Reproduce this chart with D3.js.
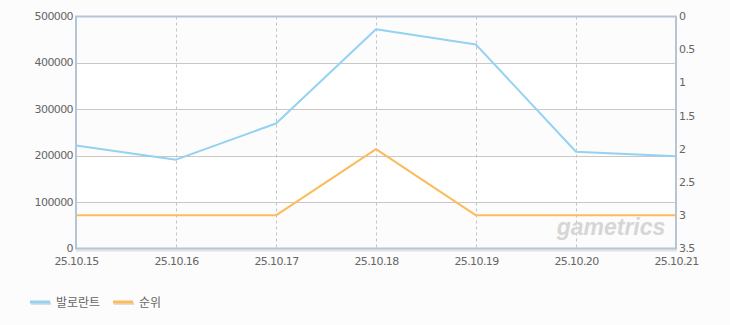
<!DOCTYPE html>
<html><head><meta charset="utf-8">
<script src="https://cdn.jsdelivr.net/npm/d3@7"></script>
<style>
html,body{margin:0;padding:0;background:#fcfcfc;}
svg{display:block;}
text{font-family:"DejaVu Sans","Noto Sans CJK KR",sans-serif;}
</style></head>
<body>
<script>
const dates = ["25.10.15","25.10.16","25.10.17","25.10.18","25.10.19","25.10.20","25.10.21"];
const players = [222000, 191500, 269500, 472500, 439500, 208500, 199000];
const ranks = [3, 3, 3, 2, 3, 3, 3];
const leftTicks = [0, 100000, 200000, 300000, 400000, 500000];
const rightTicks = [0, 0.5, 1, 1.5, 2, 2.5, 3, 3.5];
const seriesNames = ["발로란트", "순위"];
const seriesColors = ["#93d2f2", "#fcbb5c"];

const W = 730, H = 325;
const L = 76, R = 676, T = 16.5, B = 248.5;
const svg = d3.select("body").append("svg").attr("width", W).attr("height", H);

const x = d3.scalePoint().domain(dates).range([L, R]);
const yL = d3.scaleLinear().domain([0, 500000]).range([B, T]);
const yR = d3.scaleLinear().domain([0, 3.5]).range([T, B]);

// plot background bands
svg.append("rect").attr("x", L).attr("y", T).attr("width", R - L).attr("height", B - T).attr("fill", "#ffffff");
for (let i = 0; i < leftTicks.length - 1; i += 2) {
  svg.append("rect").attr("x", L).attr("width", R - L)
    .attr("y", yL(leftTicks[i + 1])).attr("height", yL(leftTicks[i]) - yL(leftTicks[i + 1]))
    .attr("fill", "#fcfcfc");
}

// horizontal grid
svg.append("g").selectAll("line").data(leftTicks.slice(1, -1)).join("line")
  .attr("x1", L).attr("x2", R)
  .attr("y1", d => Math.round(yL(d)) + 0.5).attr("y2", d => Math.round(yL(d)) + 0.5)
  .attr("stroke", "#c8c8c8").attr("stroke-width", 1);

// vertical dashed grid
svg.append("g").selectAll("line").data(dates.slice(1, -1)).join("line")
  .attr("x1", d => Math.round(x(d)) + 0.5).attr("x2", d => Math.round(x(d)) + 0.5)
  .attr("y1", T).attr("y2", B)
  .attr("stroke", "#c4c4c4").attr("stroke-width", 1).attr("stroke-dasharray", "3,3");

// watermark
svg.append("text").attr("x", 611).attr("y", 235).attr("text-anchor", "middle")
  .attr("font-size", 23).attr("font-weight", "bold").attr("font-style", "italic")
  .attr("fill", "#d6d6d6").attr("letter-spacing", "0")
  .style("font-family", "'Liberation Sans', Arial, sans-serif")
  .text("gametrics");

// frame shadow + frame
svg.append("line").attr("x1", L).attr("x2", R + 1).attr("y1", B + 2).attr("y2", B + 2)
  .attr("stroke", "#e2e2e2").attr("stroke-width", 2);
svg.append("rect").attr("x", L).attr("y", T).attr("width", R - L).attr("height", B - T)
  .attr("fill", "none").attr("stroke", "#b3c5d7").attr("stroke-width", 2);

// lines
const lineL = d3.line().x((d, i) => x(dates[i])).y(d => yL(d));
const lineR = d3.line().x((d, i) => x(dates[i])).y(d => yR(d));
svg.append("path").datum(ranks).attr("d", lineR).attr("fill", "none")
  .attr("stroke", seriesColors[1]).attr("stroke-width", 2).attr("stroke-linejoin", "round");
svg.append("path").datum(players).attr("d", lineL).attr("fill", "none")
  .attr("stroke", seriesColors[0]).attr("stroke-width", 2).attr("stroke-linejoin", "round");

// axes labels
const axL = svg.append("g").attr("transform", `translate(${L - 2},0)`)
  .call(d3.axisLeft(yL).tickValues(leftTicks).tickSize(0).tickPadding(1).tickFormat(d3.format("d")));
const axR = svg.append("g").attr("transform", `translate(${R + 2},0)`)
  .call(d3.axisRight(yR).tickValues(rightTicks).tickSize(0).tickPadding(1).tickFormat(d => String(d)));
const axB = svg.append("g").attr("transform", `translate(0,${B + 3})`)
  .call(d3.axisBottom(x).tickSize(0).tickPadding(6));
[axL, axR, axB].forEach(g => {
  g.select(".domain").remove();
  g.selectAll("text").attr("fill", "#666").attr("font-size", 11)
    .style("font-family", "'DejaVu Sans', sans-serif").attr("letter-spacing", "-0.6");
});
axL.selectAll("text").attr("dy", "0.28em");
axR.selectAll("text").attr("dy", "0.28em");

// legend
const leg = svg.append("g");
const legX = [30, 113];
seriesNames.forEach((n, i) => {
  leg.append("line").attr("x1", legX[i] + 1).attr("x2", legX[i] + 21).attr("y1", 303.5).attr("y2", 303.5)
    .attr("stroke", "#dddddd").attr("stroke-width", 3);
  leg.append("line").attr("x1", legX[i]).attr("x2", legX[i] + 20).attr("y1", 302).attr("y2", 302)
    .attr("stroke", seriesColors[i]).attr("stroke-width", 3);
  leg.append("text").attr("x", legX[i] + 26).attr("y", 306.5).attr("font-size", 12)
    .attr("fill", "#666").style("font-family", "'Noto Sans CJK KR', sans-serif").text(n);
});
</script>
</body></html>
